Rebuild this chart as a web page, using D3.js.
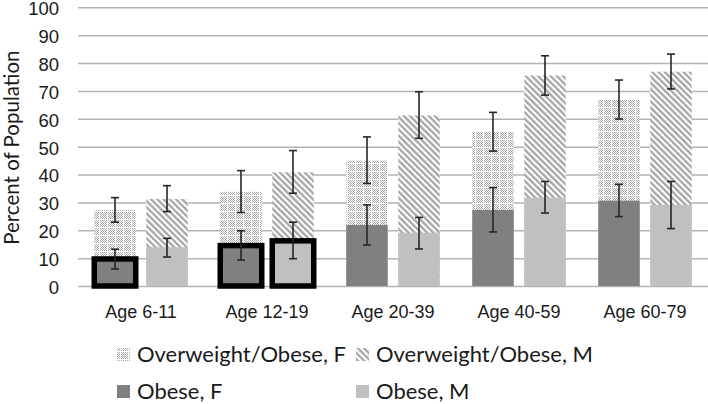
<!DOCTYPE html>
<html>
<head>
<meta charset="utf-8">
<script src="https://cdn.jsdelivr.net/npm/d3@7"></script>
<style>
  body { margin: 0; background: #fff; }
  svg { display: block; font-family: Lato, "Open Sans", sans-serif; }
</style>
</head>
<body>
<svg id="chart" width="708" height="404"></svg>
<script>
// values (percent of population)
const categories = ['Age 6-11', 'Age 12-19', 'Age 20-39', 'Age 40-59', 'Age 60-79'];
const sexes = ['F', 'M'];

const overweightF = [27.3, 33.8, 45.0, 55.2, 66.9];
const overweightFLow = [22.9, 26.4, 36.8, 48.4, 59.9];
const overweightFHigh = [31.7, 41.4, 53.5, 62.3, 73.9];

const overweightM = [31.2, 40.8, 61.2, 75.5, 76.9];
const overweightMLow = [26.7, 33.3, 53.0, 68.5, 70.7];
const overweightMHigh = [36.0, 48.6, 69.7, 82.6, 83.2];

const obeseF = [9.7, 14.5, 21.9, 27.3, 30.6];
const obeseFLow = [6.1, 9.3, 14.7, 19.4, 24.9];
const obeseFHigh = [13.2, 19.8, 29.1, 35.3, 36.5];

const obeseM = [13.9, 16.2, 19.1, 31.7, 29.1];
const obeseMLow = [10.4, 9.8, 13.3, 26.2, 20.6];
const obeseMHigh = [17.1, 22.9, 24.6, 37.5, 37.5];

// obese bars that carry the heavy outline
const outlined = ['Age 6-11|F', 'Age 12-19|F', 'Age 12-19|M'];

const yTicks = [0, 10, 20, 30, 40, 50, 60, 70, 80, 90, 100];
const yTitle = 'Percent of Population';

const legendItems = [
  { label: 'Overweight/Obese, F', fill: 'url(#dotsF)' },
  { label: 'Overweight/Obese, M', fill: 'url(#stripesM)' },
  { label: 'Obese, F', fill: '#808080' },
  { label: 'Obese, M', fill: '#c0c0c0' }
];

const svg = d3.select('#chart');
const plotLeft = 78, plotRight = 708, plotTop = 7.3, plotBottom = 286;

const x = d3.scaleBand().domain(categories).range([plotLeft, plotRight]);
const xSex = d3.scaleBand().domain(sexes).range([0, x.bandwidth()])
  .paddingInner(0.202).paddingOuter(0.3125);
const y = d3.scaleLinear().domain([0, 100]).range([plotBottom, plotTop]);

// patterns
const defs = svg.append('defs');
const chk = defs.append('pattern').attr('id', 'dotsF')
  .attr('patternUnits', 'userSpaceOnUse').attr('width', 8).attr('height', 8);
chk.append('rect').attr('width', 8).attr('height', 8).attr('fill', '#fff');
for (let i = 0; i < 8; i++) {
  for (let j = 0; j < 8; j++) {
    if ((i + j) % 2 === 0 && i !== 3 && j !== 3) {
      chk.append('rect').attr('x', i).attr('y', j).attr('width', 1).attr('height', 1).attr('fill', '#a8a8a8');
    }
  }
}
const str = defs.append('pattern').attr('id', 'stripesM')
  .attr('patternUnits', 'userSpaceOnUse').attr('width', 4.4).attr('height', 10)
  .attr('patternTransform', 'rotate(-45)');
str.append('rect').attr('width', 4.4).attr('height', 10).attr('fill', '#fff');
str.append('rect').attr('width', 2.3).attr('height', 10).attr('fill', '#a6a6a6');

// grid + y axis
const yAxis = svg.append('g')
  .attr('transform', `translate(${plotLeft},0)`)
  .call(d3.axisLeft(y).tickValues(yTicks).tickSize(-(plotRight - plotLeft)).tickPadding(19));
yAxis.select('.domain').remove();
yAxis.selectAll('line').attr('stroke', '#b3b3b3').attr('stroke-width', 1.5);
yAxis.selectAll('text').attr('font-size', 18.5).attr('fill', '#1a1a1a').attr('dy', '0.4em');

svg.append('text')
  .attr('transform', `translate(19,${(plotTop + plotBottom) / 2 + 1}) rotate(-90)`)
  .attr('text-anchor', 'middle')
  .attr('font-size', 20.5)
  .attr('fill', '#1a1a1a')
  .text(yTitle);

// x axis labels
const xAxis = svg.append('g')
  .attr('transform', `translate(0,${plotBottom})`)
  .call(d3.axisBottom(x).tickSize(0).tickPadding(19));
xAxis.select('.domain').remove();
xAxis.selectAll('text').attr('font-size', 18).attr('fill', '#1a1a1a');

const rows = categories.map((c, i) => ({
  cat: c,
  F: { ow: overweightF[i], owLo: overweightFLow[i], owHi: overweightFHigh[i],
       ob: obeseF[i], obLo: obeseFLow[i], obHi: obeseFHigh[i] },
  M: { ow: overweightM[i], owLo: overweightMLow[i], owHi: overweightMHigh[i],
       ob: obeseM[i], obLo: obeseMLow[i], obHi: obeseMHigh[i] }
}));

const bars = [];
rows.forEach(r => sexes.forEach(s => bars.push(Object.assign({ cat: r.cat, sex: s }, r[s]))));
const bx = d => x(d.cat) + xSex(d.sex);
const bw = xSex.bandwidth();

const g = svg.append('g');

g.selectAll('rect.ow').data(bars).enter()
  .append('rect').attr('class', 'ow')
  .attr('x', bx).attr('width', bw)
  .attr('y', d => y(d.ow)).attr('height', d => y(0) - y(d.ow))
  .attr('fill', d => d.sex === 'F' ? 'url(#dotsF)' : 'url(#stripesM)');

g.selectAll('rect.ob').data(bars).enter()
  .append('rect').attr('class', 'ob')
  .attr('x', bx).attr('width', bw)
  .attr('y', d => y(d.ob)).attr('height', d => y(0) - y(d.ob))
  .attr('fill', d => d.sex === 'F' ? '#808080' : '#c0c0c0')
  .attr('stroke', d => outlined.includes(d.cat + '|' + d.sex) ? '#000' : 'none')
  .attr('stroke-width', 5.5);

// error bars
const errs = [];
bars.forEach(d => {
  errs.push({ cx: bx(d) + bw / 2, lo: d.owLo, hi: d.owHi });
  errs.push({ cx: bx(d) + bw / 2, lo: d.obLo, hi: d.obHi });
});
const eg = g.selectAll('g.err').data(errs).enter().append('g').attr('class', 'err')
  .attr('stroke', '#262626').attr('stroke-width', 1.6);
eg.append('line').attr('x1', d => d.cx).attr('x2', d => d.cx)
  .attr('y1', d => y(d.lo)).attr('y2', d => y(d.hi));
eg.append('line').attr('x1', d => d.cx - 4).attr('x2', d => d.cx + 4)
  .attr('y1', d => y(d.lo)).attr('y2', d => y(d.lo));
eg.append('line').attr('x1', d => d.cx - 4).attr('x2', d => d.cx + 4)
  .attr('y1', d => y(d.hi)).attr('y2', d => y(d.hi));

// legend, two columns x two rows
const legX = [117, 356], legY = [348, 385];
const leg = svg.append('g').selectAll('g').data(legendItems).enter().append('g')
  .attr('transform', (d, i) => `translate(${legX[i % 2]},${legY[Math.floor(i / 2)]})`);
leg.append('rect').attr('width', 13).attr('height', 13).attr('fill', d => d.fill);
leg.append('text').attr('x', 20).attr('y', 14)
  .attr('font-size', 22).attr('fill', '#1a1a1a')
  .text(d => d.label);
</script>
</body>
</html>
